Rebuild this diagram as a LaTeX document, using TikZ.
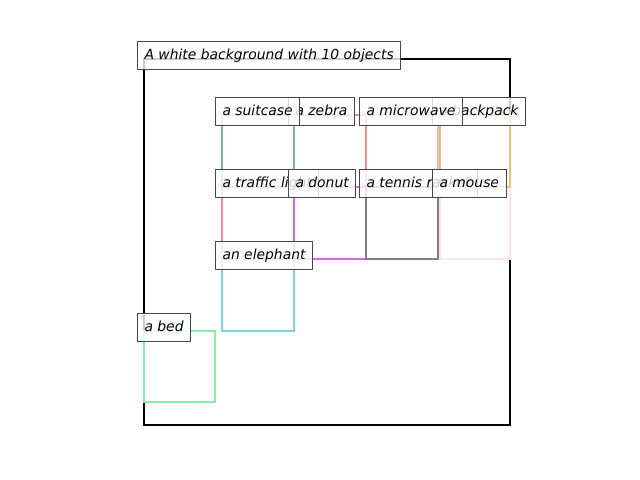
\documentclass[tikz,border=0pt]{standalone}
\usepackage{fontspec}
\setmainfont{DejaVu Sans}
\definecolor{csuit}{RGB}{110,192,150}
\definecolor{czebra}{RGB}{228,145,130}
\definecolor{cmicro}{RGB}{228,180,228}
\definecolor{cback}{RGB}{240,195,95}
\definecolor{ctraffic}{RGB}{245,130,180}
\definecolor{cdonut}{RGB}{215,100,235}
\definecolor{ctennis}{RGB}{135,125,122}
\definecolor{cmouse}{RGB}{252,228,228}
\definecolor{celeph}{RGB}{120,218,212}
\definecolor{cbed}{RGB}{128,240,176}
\tikzset{
  objbox/.style={line width=1.75pt},
  framebox/.style={line width=2.1pt, draw=black},
  lab/.style={anchor=base west, draw=black!72, line width=0.72pt, fill=white,
    fill opacity=0.8, text opacity=1, inner xsep=5.04pt, inner ysep=5.04pt,
    text height=7.92pt, text depth=2.16pt,
    font=\fontsize{10pt}{12pt}\selectfont\itshape}
}
\begin{document}
\begin{tikzpicture}[x=0.72pt,y=-0.72pt]
\useasboundingbox (0,0) rectangle (640,480);
% frame
\draw[framebox] (144,59) rectangle (510,425);
% object boxes
\draw[objbox, draw=cmicro] (366,115) rectangle (438,187);
\draw[objbox, draw=cmouse] (440,187) rectangle (510,259);
\draw[objbox, draw=czebra] (294,115) rectangle (366,187);
\draw[objbox, draw=csuit] (222,115) rectangle (294,187);
\draw[objbox, draw=cback] (440,115) rectangle (510,187);
\draw[objbox, draw=ctraffic] (222,187) rectangle (294,259);
\draw[objbox, draw=cdonut] (294,187) rectangle (366,259);
\draw[objbox, draw=ctennis] (366,187) rectangle (438,259);
\draw[objbox, draw=celeph] (222,259) rectangle (294,331);
\draw[objbox, draw=cbed] (144,331) rectangle (215,402);
% labels
\node[lab] (title) at (137,59) {A white background with 10 objects};
\node[lab] (zebra) at (288,115) {a zebra};
\node[lab] (suitcase) at (215,115) {a suitcase};
\node[lab] (backpack) at (432,115) {a backpack};
\node[lab] (microwave) at (359,115) {a microwave};
\node[lab] (traffic) at (215,187) {a traffic light};
\node[lab] (donut) at (288,187) {a donut};
\node[lab] (tennis) at (359,187) {a tennis racket};
\node[lab] (mouse) at (432,187) {a mouse};
\node[lab] (elephant) at (215,259) {an elephant};
\node[lab] (bed) at (137,331) {a bed};
\end{tikzpicture}
\end{document}
